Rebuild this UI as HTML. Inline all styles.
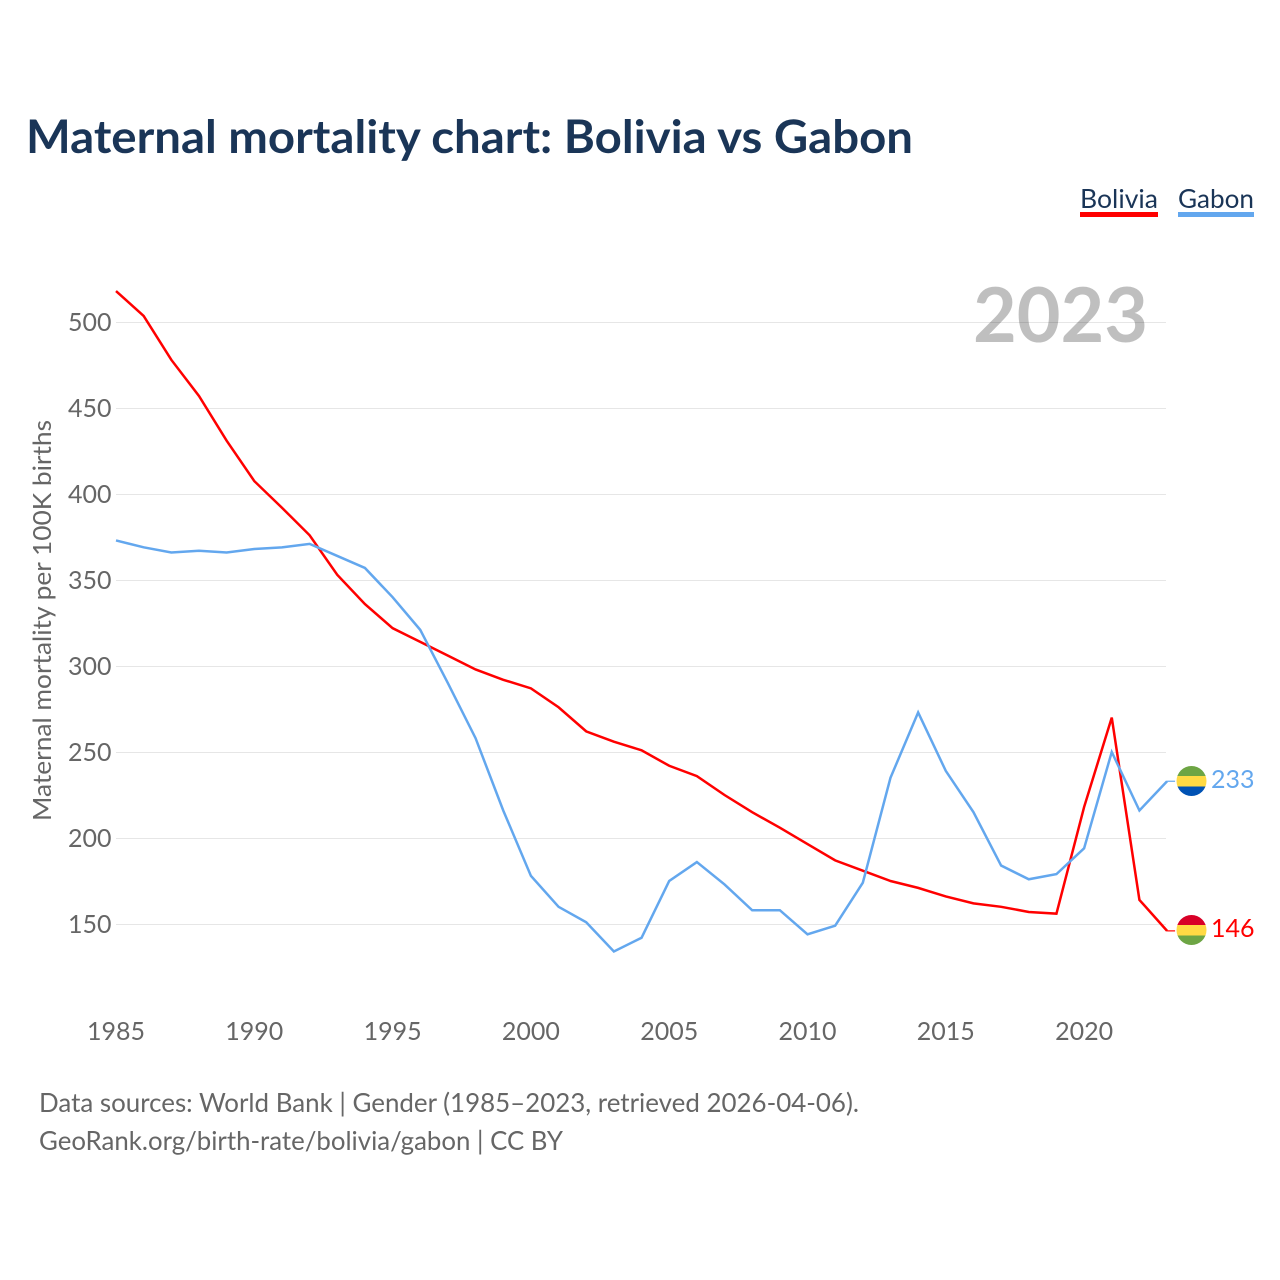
<!DOCTYPE html>
<html lang="en">
<head>
<meta charset="utf-8">
<title>Maternal mortality chart: Bolivia vs Gabon</title>
<style>
  html, body { margin: 0; padding: 0; background: #fff; }
  svg { display: block; }
  text { font-family: "Lato", "Carlito", "Liberation Sans", sans-serif; }
</style>
</head>
<body>
<svg id="chart" xmlns="http://www.w3.org/2000/svg" width="1280" height="1280" viewBox="0 0 1280 1280">
  <defs>
    <clipPath id="flag-clip-top"><circle cx="1191.5" cy="781" r="15"></circle></clipPath>
    <clipPath id="flag-clip-bottom"><circle cx="1191.5" cy="930" r="15"></circle></clipPath>
  </defs>
  <rect x="0" y="0" width="1280" height="1280" fill="#ffffff"></rect>
  <text x="26" y="153" font-size="46" font-weight="700" fill="#1a3557" textLength="887" lengthAdjust="spacingAndGlyphs">Maternal mortality chart: Bolivia vs Gabon</text>

  <g>
    <g>
      <text x="1080" y="208" font-size="26" fill="#1a3557" textLength="78" lengthAdjust="spacingAndGlyphs">Bolivia</text>
      <rect x="1080" y="212" width="78" height="5" fill="#ff0000"></rect>
    </g>
    <g>
      <text x="1178" y="208" font-size="26" fill="#1a3557" textLength="76" lengthAdjust="spacingAndGlyphs">Gabon</text>
      <rect x="1178" y="212" width="76" height="5" fill="#63a7ee"></rect>
    </g>
  </g>

  <g id="grid"></g>
  <text x="973" y="342" font-size="76" font-weight="700" fill="#000000" fill-opacity="0.25" textLength="175" lengthAdjust="spacingAndGlyphs">2023</text>
  <g id="yticks"></g>
  <g id="xticks"></g>

  <text transform="translate(51,620.5) rotate(-90)" text-anchor="middle" font-size="25" fill="#666666" textLength="401" lengthAdjust="spacingAndGlyphs">Maternal mortality per 100K births</text>

  <g id="series"></g>

  <g clip-path="url(#flag-clip-top)">
    <rect x="1176" y="766" width="31" height="10" fill="#6da544"></rect>
    <rect x="1176" y="776" width="31" height="10.500" fill="#ffda44"></rect>
    <rect x="1176" y="786.500" width="31" height="10" fill="#0052b4"></rect>
  </g>
  <g clip-path="url(#flag-clip-bottom)">
    <rect x="1176" y="915" width="31" height="10" fill="#d80027"></rect>
    <rect x="1176" y="925" width="31" height="10.500" fill="#ffda44"></rect>
    <rect x="1176" y="935.500" width="31" height="10" fill="#6da544"></rect>
  </g>

  <text id="value-gabon" x="1254.500" y="788" text-anchor="end" font-size="25" fill="#63a7ee"></text>
  <text id="value-bolivia" x="1254.500" y="937" text-anchor="end" font-size="25" fill="#ff0000"></text>

  <text x="39" y="1112" font-size="26" fill="#666666" textLength="820" lengthAdjust="spacingAndGlyphs">Data sources: World Bank | Gender (1985–2023, retrieved 2026-04-06).</text>
  <text x="39" y="1150" font-size="26" fill="#666666" textLength="524" lengthAdjust="spacingAndGlyphs">GeoRank.org/birth-rate/bolivia/gabon | CC BY</text>
</svg>

<script>
var startYear = 1985;
var bolivia = [518, 503.5, 478, 457, 431, 407.5, 392, 376, 353, 336, 322, 314, 306, 298, 292, 287, 276, 262, 256, 251, 242, 236, 225, 215, 206, 196.5, 187, 181, 175, 171, 166, 162, 160, 157, 156, 218, 270, 164, 146];
var gabon = [373, 369, 366, 367, 366, 368, 369, 371, 364, 357, 340, 321, 290, 258, 216, 178, 160, 151, 134, 142, 175, 186, 173, 158, 158, 144, 149, 174, 235, 273, 239, 215, 184, 176, 179, 194, 250, 216, 233];
var yTickLabels = [500, 450, 400, 350, 300, 250, 200, 150];
var xTickLabels = [1985, 1990, 1995, 2000, 2005, 2010, 2015, 2020];

var SVG_NS = 'http://www.w3.org/2000/svg';

function xScale(year) {
  return 116 + (year - 1985) * 27.66;
}
function yScale(value) {
  return 322 + (500 - value) * 1.72;
}

var grid = document.getElementById('grid');
var yticks = document.getElementById('yticks');
var xticks = document.getElementById('xticks');
var series = document.getElementById('series');

yTickLabels.forEach(function (v) {
  var line = document.createElementNS(SVG_NS, 'line');
  
  
  line.setAttribute('x1', 116);
  line.setAttribute('x2', 1166);
  line.setAttribute('y1', yScale(v) + 0.5);
  line.setAttribute('y2', yScale(v) + 0.5);
  line.setAttribute('stroke', '#e6e6e6');
  line.setAttribute('stroke-width', '1');
  line.setAttribute('shape-rendering', 'crispEdges');
  grid.appendChild(line);

  var t = document.createElementNS(SVG_NS, 'text');
  
  
  t.setAttribute('x', 111.5);
  t.setAttribute('y', yScale(v) + 9);
  t.setAttribute('text-anchor', 'end');
  t.setAttribute('font-size', '25');
  t.setAttribute('fill', '#666666');
  t.textContent = String(v);
  yticks.appendChild(t);
});

xTickLabels.forEach(function (y) {
  var t = document.createElementNS(SVG_NS, 'text');
  
  
  t.setAttribute('x', xScale(y));
  t.setAttribute('y', 1040);
  t.setAttribute('text-anchor', 'middle');
  t.setAttribute('font-size', '25');
  t.setAttribute('fill', '#666666');
  t.textContent = String(y);
  xticks.appendChild(t);
});

function drawSeries(values, color, name) {
  var pts = values.map(function (v, i) {
    return xScale(startYear + i).toFixed(2) + ',' + yScale(v).toFixed(2);
  });
  var lastY = yScale(values[values.length - 1]).toFixed(2);
  var lastX = xScale(startYear + values.length - 1);

  var line = document.createElementNS(SVG_NS, 'polyline');
  
  
  line.setAttribute('points', pts.join(' '));
  line.setAttribute('fill', 'none');
  line.setAttribute('stroke', color);
  line.setAttribute('stroke-width', '2.5');
  line.setAttribute('stroke-linejoin', 'miter');
  series.appendChild(line);

  var stub = document.createElementNS(SVG_NS, 'line');
  
  
  stub.setAttribute('x1', lastX);
  stub.setAttribute('x2', lastX + 8);
  stub.setAttribute('y1', lastY);
  stub.setAttribute('y2', lastY);
  stub.setAttribute('stroke', color);
  stub.setAttribute('stroke-width', '1.2');
  series.appendChild(stub);
}

drawSeries(bolivia, '#ff0000', 'bolivia');
drawSeries(gabon, '#63a7ee', 'gabon');

document.getElementById('value-gabon').textContent = String(gabon[gabon.length - 1]);
document.getElementById('value-bolivia').textContent = String(bolivia[bolivia.length - 1]);
</script>
</body>
</html>
